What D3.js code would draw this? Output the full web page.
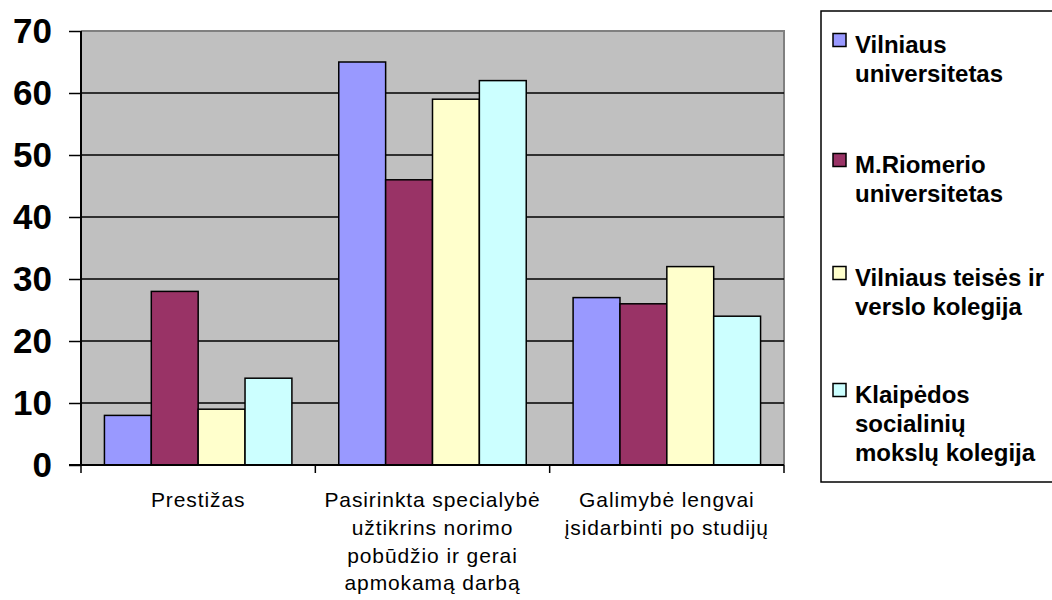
<!DOCTYPE html>
<html><head><meta charset="utf-8">
<script src="https://cdn.jsdelivr.net/npm/d3@7"></script>
<style>body{margin:0;background:#fff;} svg{display:block;}</style>
</head><body>
<svg id="c" width="1052" height="600"></svg>
<script>
const categories = [
  ["Prestižas"],
  ["Pasirinkta specialybė", "užtikrins norimo", "pobūdžio ir gerai", "apmokamą darbą"],
  ["Galimybė lengvai", "įsidarbinti po studijų"]
];
const seriesNames = [
  ["Vilniaus", "universitetas"],
  ["M.Riomerio", "universitetas"],
  ["Vilniaus teisės ir", "verslo kolegija"],
  ["Klaipėdos", "socialinių", "mokslų kolegija"]
];
const seriesValues = [
  [8, 65, 27],
  [28, 46, 26],
  [9, 59, 32],
  [14, 62, 24]
];
const colors = ["#9999FF", "#993366", "#FFFFCC", "#CCFFFF"];
const yTicks = [0, 10, 20, 30, 40, 50, 60, 70];

const svg = d3.select("#c");
const L = 81, R = 784, T = 31, B = 465;
const x0 = d3.scaleBand().domain(d3.range(categories.length)).range([L, R]).paddingInner(0).paddingOuter(0);
const x1 = d3.scaleBand().domain(d3.range(seriesValues.length)).range([0, x0.bandwidth()]).paddingOuter(0.5);
const y = d3.scaleLinear().domain([0, 70]).range([B, T]);

// plot background
svg.append("rect").attr("x", L).attr("y", T).attr("width", R - L).attr("height", B - T).attr("fill", "#C0C0C0");
svg.append("path").attr("d", `M${L},${T}H${R}V${B}`).attr("fill", "none").attr("stroke", "#808080").attr("stroke-width", 2);

// gridlines
svg.append("g").selectAll("line").data(yTicks.filter(d => d > 0 && d < 70)).join("line")
  .attr("x1", L).attr("x2", R).attr("y1", d => y(d)).attr("y2", d => y(d))
  .attr("stroke", "#000").attr("stroke-width", 1.5);

// bars
categories.forEach((c, ci) => {
  seriesValues.forEach((vals, si) => {
    svg.append("rect")
      .attr("x", x0(ci) + x1(si)).attr("y", y(vals[ci]))
      .attr("width", x1.bandwidth()).attr("height", B - y(vals[ci]))
      .attr("fill", colors[si]).attr("stroke", "#000").attr("stroke-width", 1.5);
  });
});

// y axis
const yAxis = d3.axisLeft(y).tickValues(yTicks).tickSize(12).tickPadding(17).tickFormat(d3.format("d"));
const ya = svg.append("g").attr("transform", `translate(${L},0)`).call(yAxis);
ya.attr("font-size", null).attr("font-family", null);
ya.select(".domain").attr("stroke", "#000").attr("stroke-width", 2).attr("d", `M0,${T}V${B}`);
ya.selectAll(".tick line").attr("stroke", "#000").attr("stroke-width", 1.5);
ya.selectAll(".tick text").style("font-family", "'Liberation Sans', Arial, sans-serif")
  .style("font-size", "35px").style("font-weight", "bold").attr("fill", "#000").attr("dy", "0.33em");

// x axis
const xTickPos = d3.range(categories.length + 1).map(i => L + i * x0.bandwidth());
svg.append("line").attr("x1", L - 12).attr("x2", R).attr("y1", B).attr("y2", B).attr("stroke", "#000").attr("stroke-width", 2);
svg.append("g").selectAll("line").data(xTickPos).join("line")
  .attr("x1", d => d).attr("x2", d => d).attr("y1", B).attr("y2", B + 8)
  .attr("stroke", "#000").attr("stroke-width", 1.5);

const xl = svg.append("g").style("font-family", "'Liberation Sans', Arial, sans-serif").style("font-size", "21px")
  .attr("text-anchor", "middle").attr("fill", "#000").style("letter-spacing", "0.9px");
categories.forEach((lines, ci) => {
  const cx = x0(ci) + x0.bandwidth() / 2;
  const t = xl.append("text");
  lines.forEach((ln, li) => t.append("tspan").attr("x", cx).attr("y", 507 + li * 27.8).text(ln));
});

// legend
svg.append("rect").attr("x", 821).attr("y", 11).attr("width", 240).attr("height", 471)
  .attr("fill", "#fff").attr("stroke", "#000").attr("stroke-width", 1.5);
const legY = [53, 173, 286, 403];
const lg = svg.append("g").style("font-family", "'Liberation Sans', Arial, sans-serif").style("font-size", "24px")
  .style("font-weight", "bold").attr("fill", "#000");
seriesNames.forEach((lines, si) => {
  svg.append("rect").attr("x", 833).attr("y", legY[si] - 19.5).attr("width", 13).attr("height", 13)
    .attr("fill", colors[si]).attr("stroke", "#000").attr("stroke-width", 1.5);
  const t = lg.append("text");
  lines.forEach((ln, li) => t.append("tspan").attr("x", 855).attr("y", legY[si] + li * 29).text(ln));
});
</script>
</body></html>
